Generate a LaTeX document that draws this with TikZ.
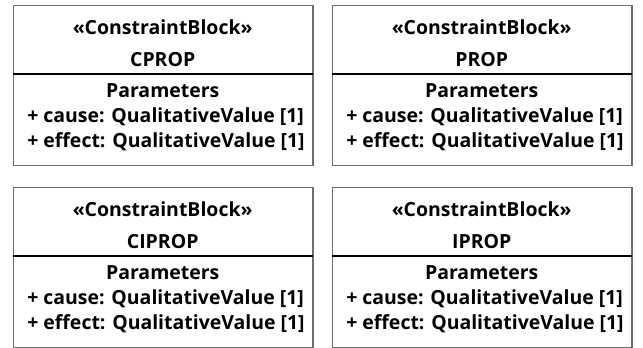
\documentclass[tikz,border=0pt]{standalone}
\usepackage{fontspec}
\setmainfont{Open Sans}
\usetikzlibrary{positioning}
\definecolor{framegray}{RGB}{110,110,110}
\tikzset{
block/.style={
	  draw=framegray, line width=1.1pt, anchor=north west,
	    minimum width=224.6pt, minimum height=120pt, inner sep=0pt},
blocktext/.style={font=\bfseries\fontsize{14.6}{17}\selectfont,
	  inner sep=0pt, anchor=base},
attr/.style={blocktext, anchor=base west}
}

\begin{document}
\begin{tikzpicture}[x=0.75pt, y=-0.75pt]
	\useasboundingbox (0,0) rectangle (643,348);
	\foreach \name/\x/\y in {CPROP/13/5, PROP/332/5, CIPROP/13/187, IPROP/332/187}{
		\node[block] (\name) at (\x,\y) {};
		\node[blocktext] (\name-stereo) at (\x+149.7,\y+30) {«ConstraintBlock»};
		\node[blocktext] (\name-title) at (\x+149.7,\y+62) {\name};
		\draw[line width=0.8pt] (\name.north west) ++(0,69) -- ++(299.5,0);
		\node[blocktext] (\name-params) at (\x+149.7,\y+93) {Parameters};
		\node[attr] (\name-cause) at (\x+14,\y+118) {+ cause: QualitativeValue [1]};
		\node[attr] (\name-effect) at (\x+14,\y+143) {+ effect: QualitativeValue [1]};
	}
\end{tikzpicture}
\end{document}
